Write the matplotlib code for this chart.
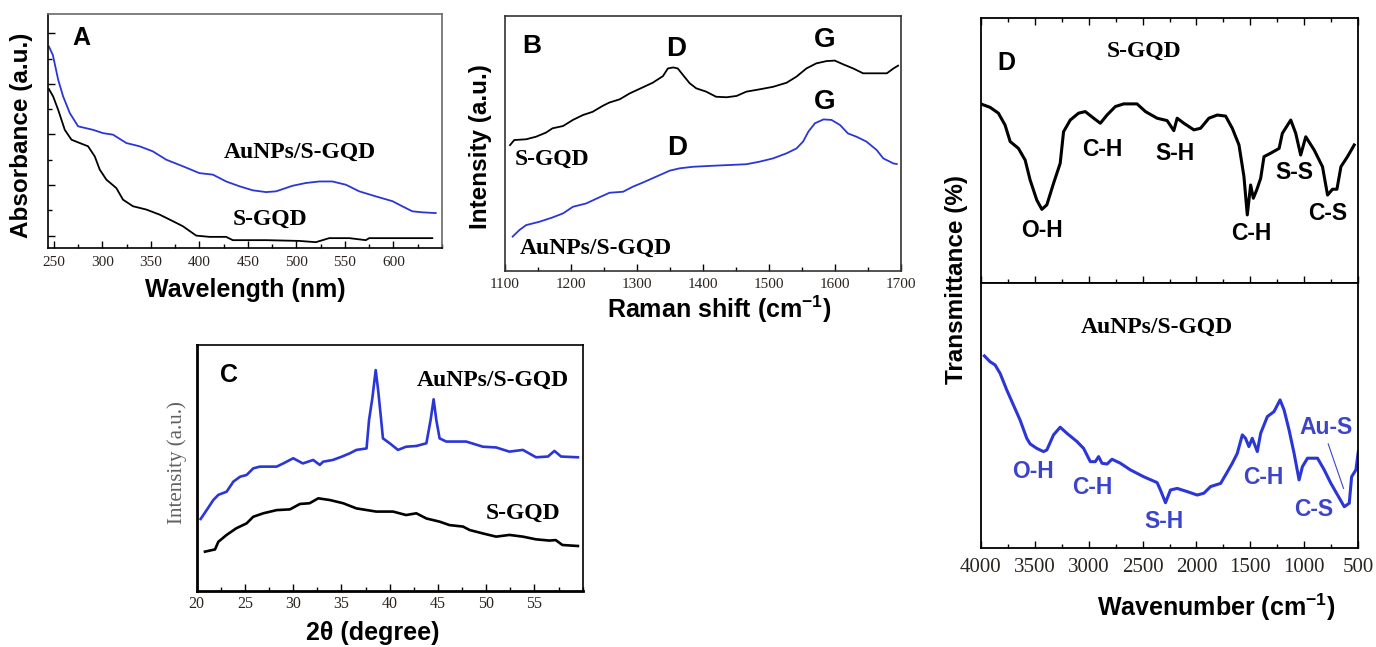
import matplotlib
matplotlib.use("Agg")
import matplotlib.pyplot as plt
from matplotlib.ticker import MultipleLocator, NullFormatter, NullLocator

plt.rcParams['mathtext.fontset'] = 'custom'
plt.rcParams['mathtext.rm'] = 'Liberation Sans:bold'
plt.rcParams['mathtext.it'] = 'Liberation Sans:bold'
plt.rcParams['mathtext.bf'] = 'Liberation Sans:bold'

SERIF = ['Liberation Serif', 'DejaVu Serif']
SANS = ['Liberation Sans', 'DejaVu Sans']
BLUE = '#2b36d6'
BLUE_TXT = '#3c44cc'
TICKC = '#2a2420'

# ---------------- Panel A: UV-Vis ----------------
a_wl_blue = [245, 249, 254.5, 259.6, 266.5, 275, 290.5, 300.7, 311, 324.7, 338.4, 352, 365.9, 383, 400,
             413.9, 427.6, 441.3, 455, 468.7, 479, 496, 509.8, 523.6, 537, 551, 564.7, 581.8, 599, 609,
             619.5, 629.8, 643.5]
a_abs_blue = [7.47, 7.14, 6.16, 5.5, 4.84, 4.32, 4.18, 4.05, 3.99, 3.66, 3.53, 3.33, 3.0, 2.74, 2.47,
              2.41, 2.14, 1.95, 1.79, 1.72, 1.75, 1.97, 2.08, 2.14, 2.14, 2.01, 1.75, 1.55, 1.36, 1.16,
              0.96, 0.92, 0.89]
a_wl_black = [245, 249.3, 254.5, 261.3, 268.2, 276.7, 285.3, 292.2, 297.3, 304.2, 314.4, 321.3, 331.6,
              345.3, 359, 372.7, 383, 396.7, 410.4, 427.6, 434.4, 468.7, 503, 520, 533.8, 554.4, 571.5,
              575, 605.8, 619.5, 640]
a_abs_black = [5.79, 5.5, 4.97, 4.18, 3.79, 3.66, 3.53, 3.13, 2.61, 2.21, 1.88, 1.42, 1.16, 1.03, 0.83,
               0.57, 0.37, 0.0, -0.05, -0.05, -0.18, -0.18, -0.21, -0.26, -0.1, -0.1, -0.18, -0.1, -0.1,
               -0.1, -0.1]
a_xticks = [250, 300, 350, 400, 450, 500, 550, 600]

# ---------------- Panel B: Raman ----------------
b_shift_black = [1107.6, 1114, 1132, 1147, 1162, 1172, 1188, 1203, 1218, 1233, 1248, 1258, 1274, 1289,
                 1309, 1324, 1339.5, 1347, 1355, 1362, 1370, 1380, 1390, 1405, 1420, 1436, 1451, 1466,
                 1486, 1506.5, 1527, 1542, 1557, 1572, 1587.6, 1600, 1613, 1628, 1643, 1659, 1679, 1689,
                 1696]
b_int_black = [0.493, 0.513, 0.516, 0.526, 0.542, 0.559, 0.568, 0.592, 0.611, 0.624, 0.647, 0.660, 0.673,
               0.696, 0.720, 0.738, 0.764, 0.794, 0.798, 0.794, 0.768, 0.736, 0.716, 0.703, 0.683, 0.681,
               0.686, 0.703, 0.712, 0.722, 0.738, 0.762, 0.794, 0.814, 0.823, 0.825, 0.810, 0.794, 0.775,
               0.775, 0.775, 0.794, 0.805]
b_shift_blue = [1111.6, 1122, 1132, 1152, 1172, 1188, 1203, 1223, 1243, 1258.5, 1279, 1294, 1309, 1329,
                1350, 1365, 1385, 1415, 1466, 1486, 1506.5, 1527, 1542, 1552, 1560, 1570, 1583, 1595,
                1608, 1620, 1633, 1648, 1663.5, 1673.6, 1689, 1694]
b_int_blue = [0.134, 0.160, 0.179, 0.192, 0.209, 0.225, 0.251, 0.264, 0.288, 0.306, 0.310, 0.330, 0.346,
              0.369, 0.393, 0.402, 0.408, 0.412, 0.418, 0.428, 0.441, 0.461, 0.480, 0.507, 0.546, 0.579,
              0.594, 0.592, 0.572, 0.539, 0.526, 0.507, 0.474, 0.441, 0.421, 0.419]
b_xticks = [1100, 1200, 1300, 1400, 1500, 1600, 1700]

# ---------------- Panel C: XRD ----------------
c_2theta_blue = [20.41, 21.03, 21.72, 22.24, 23.1, 23.8, 24.5, 25.17, 25.86, 26.55, 28.28, 28.97, 30.0,
                 31.0, 32.07, 32.76, 33.1, 34.1, 35.0, 35.86, 36.55, 37.6, 37.86, 38.2, 38.55, 38.8, 39.1,
                 39.3, 40.0, 40.86, 41.7, 42.76, 43.8, 44.24, 44.55, 44.83, 45.17, 45.86, 47.93, 49.66,
                 51.03, 52.4, 53.8, 55.17, 56.4, 57.07, 57.76, 59.5]
c_int_blue = [0.292, 0.328, 0.369, 0.390, 0.403, 0.444, 0.464, 0.471, 0.498, 0.505, 0.505, 0.518, 0.539,
              0.518, 0.532, 0.512, 0.525, 0.532, 0.545, 0.559, 0.573, 0.579, 0.695, 0.783, 0.898, 0.817,
              0.701, 0.620, 0.600, 0.573, 0.586, 0.589, 0.600, 0.695, 0.779, 0.695, 0.620, 0.607, 0.607,
              0.586, 0.583, 0.566, 0.573, 0.543, 0.546, 0.569, 0.546, 0.543]
c_2theta_black = [20.86, 21.9, 22.24, 23.1, 24.1, 25.17, 25.86, 26.9, 28.28, 29.66, 30.7, 31.7, 32.6,
                  33.8, 35.17, 36.55, 38.6, 40.35, 41.7, 42.76, 43.8, 45.17, 46.2, 47.6, 48.28, 49.66,
                  51.03, 52.4, 53.8, 55.17, 56.55, 57.2, 57.9, 59.5]
c_int_black = [0.159, 0.168, 0.199, 0.227, 0.254, 0.274, 0.301, 0.315, 0.328, 0.331, 0.353, 0.356, 0.376,
               0.369, 0.356, 0.335, 0.322, 0.322, 0.308, 0.315, 0.294, 0.281, 0.267, 0.261, 0.247, 0.233,
               0.220, 0.227, 0.220, 0.209, 0.204, 0.206, 0.186, 0.182]
c_xticks = [20, 25, 30, 35, 40, 45, 50, 55]

# ---------------- Panel D: FTIR ----------------
d_wn_black = [4000, 3913, 3836, 3774, 3727, 3650, 3588, 3542, 3480, 3433, 3387, 3325, 3263, 3232, 3170,
              3093, 3031, 2953, 2891, 2829, 2752, 2674, 2551, 2473, 2365, 2272, 2210, 2179, 2117, 2024,
              1962, 1885, 1807, 1730, 1668, 1606, 1560, 1529, 1498, 1473, 1442, 1405, 1374, 1312, 1234,
              1204, 1126, 1080, 1034, 987, 909, 832, 785, 739, 698, 661, 600, 538]
d_tr_black = [0.677, 0.664, 0.642, 0.597, 0.535, 0.509, 0.465, 0.390, 0.314, 0.279, 0.296, 0.377, 0.453,
              0.572, 0.616, 0.642, 0.648, 0.623, 0.604, 0.635, 0.667, 0.677, 0.677, 0.648, 0.623, 0.614,
              0.576, 0.623, 0.604, 0.579, 0.585, 0.623, 0.635, 0.631, 0.585, 0.522, 0.403, 0.258, 0.371,
              0.321, 0.352, 0.396, 0.478, 0.491, 0.509, 0.566, 0.616, 0.566, 0.484, 0.553, 0.503, 0.440,
              0.333, 0.355, 0.355, 0.440, 0.478, 0.522]
d_wn_blue = [3966, 3913, 3867, 3820, 3758, 3697, 3635, 3573, 3542, 3480, 3418, 3387, 3325, 3263, 3201,
             3108, 3046, 2984, 2938, 2907, 2876, 2829, 2783, 2705, 2613, 2489, 2365, 2334, 2287, 2241,
             2179, 2086, 1993, 1931, 1869, 1776, 1730, 1668, 1622, 1575, 1545, 1514, 1483, 1436, 1405,
             1343, 1281, 1225, 1188, 1142, 1095, 1049, 1018, 971, 878, 816, 754, 692, 630, 584, 562,
             522, 500]
d_tr_blue = [0.726, 0.704, 0.692, 0.660, 0.597, 0.541, 0.484, 0.415, 0.394, 0.377, 0.365, 0.371, 0.428,
             0.457, 0.434, 0.403, 0.377, 0.327, 0.327, 0.346, 0.321, 0.318, 0.336, 0.321, 0.296, 0.270,
             0.248, 0.220, 0.172, 0.220, 0.226, 0.214, 0.201, 0.208, 0.233, 0.245, 0.277, 0.321, 0.358,
             0.428, 0.415, 0.384, 0.415, 0.365, 0.434, 0.497, 0.516, 0.560, 0.522, 0.447, 0.358, 0.258,
             0.308, 0.340, 0.340, 0.296, 0.245, 0.201, 0.157, 0.170, 0.270, 0.296, 0.365]
d_xticks = [4000, 3500, 3000, 2500, 2000, 1500, 1000, 500]

W, H = 1376, 647
fig = plt.figure(figsize=(W / 100, H / 100), dpi=100)


def rect(l, t, r, b):
    return [l / W, 1 - b / H, (r - l) / W, (b - t) / H]


def ftext(x, y, s, **kw):
    fig.text(x / W, 1 - y / H, s, ha='center', va='center', **kw)


def style(ax, fs, pad, maj_len=5, min_len=3):
    ax.tick_params(which='both', direction='in', colors='black', labelcolor=TICKC,
                   labelsize=fs, pad=pad, width=1.0)
    ax.tick_params(which='major', length=maj_len)
    ax.tick_params(which='minor', length=min_len)
    for lbl in ax.get_xticklabels():
        lbl.set_family(SERIF)


# ----- A -----
axA = fig.add_axes(rect(48, 14, 442, 248))
axA.plot(a_wl_blue, a_abs_blue, color=BLUE, lw=1.3)
axA.plot(a_wl_black, a_abs_black, color='black', lw=1.3)
axA.set_xlim(244, 650)
axA.set_ylim(-0.49, 8.76)
axA.set_xticks(a_xticks)
axA.xaxis.set_minor_locator(MultipleLocator(25))
axA.yaxis.set_major_locator(MultipleLocator(2))
axA.yaxis.set_minor_locator(MultipleLocator(1))
axA.yaxis.set_major_formatter(NullFormatter())
style(axA, 11, 5.5)
for s in ['top', 'right']:
    axA.spines[s].set_color('#6a6a6a')
for s in axA.spines.values():
    s.set_linewidth(1.2)
axA.text(278, 7.8, 'A', family=SANS, fontweight='bold', fontsize=18, ha='center', va='center')
axA.text(504, 3.29, 'AuNPs/S-GQD', family=SERIF, fontweight='bold', fontsize=17, ha='center', va='center')
axA.text(473, 0.66, 'S-GQD', family=SERIF, fontweight='bold', fontsize=17, ha='center', va='center')
ftext(22, 135, 'Absorbance (a.u.)', family=SANS, fontweight='bold', fontsize=17.5, rotation=90)
ftext(245, 290, 'Wavelength (nm)', family=SANS, fontweight='bold', fontsize=18)

# ----- B -----
axB = fig.add_axes(rect(505, 16, 900.7, 270.7))
axB.plot(b_shift_black, b_int_black, color='black', lw=1.3)
axB.plot(b_shift_blue, b_int_blue, color=BLUE, lw=1.3)
axB.set_xlim(1100, 1700)
axB.set_ylim(0, 1)
axB.set_xticks(b_xticks)
axB.xaxis.set_minor_locator(MultipleLocator(50))
axB.yaxis.set_major_locator(NullLocator())
style(axB, 11, 5.5)
for s in axB.spines.values():
    s.set_linewidth(1.2)
    s.set_color('#333333')
axB.text(1140, 0.884, 'B', family=SANS, fontweight='bold', fontsize=19, ha='center', va='center')
axB.text(1360, 0.869, 'D', family=SANS, fontweight='bold', fontsize=20, ha='center', va='center')
axB.text(1585, 0.906, 'G', family=SANS, fontweight='bold', fontsize=20, ha='center', va='center')
axB.text(1585, 0.664, 'G', family=SANS, fontweight='bold', fontsize=20, ha='center', va='center')
axB.text(1361, 0.480, 'D', family=SANS, fontweight='bold', fontsize=20, ha='center', va='center')
axB.text(1172, 0.437, 'S-GQD', family=SERIF, fontweight='bold', fontsize=17, ha='center', va='center')
axB.text(1238, 0.088, 'AuNPs/S-GQD', family=SERIF, fontweight='bold', fontsize=17, ha='center', va='center')
ftext(481, 147, 'Intensity (a.u.)', family=SANS, fontweight='bold', fontsize=17.5, rotation=90)
ftext(719, 309, r'Raman shift (cm$^{-1}$)', family=SANS, fontweight='bold', fontsize=18)

# ----- C -----
axC = fig.add_axes(rect(196.7, 345, 582.7, 590.7))
axC.plot(c_2theta_blue, c_int_blue, color=BLUE, lw=1.9)
axC.plot(c_2theta_black, c_int_black, color='black', lw=1.9)
axC.set_xlim(20, 60)
axC.set_ylim(0, 1)
axC.set_xticks(c_xticks)
axC.xaxis.set_minor_locator(MultipleLocator(2.5))
axC.yaxis.set_major_locator(NullLocator())
style(axC, 11.5, 3.5)
axC.spines['left'].set_linewidth(2.0)
axC.spines['bottom'].set_linewidth(2.0)
axC.spines['top'].set_linewidth(1.2)
axC.spines['right'].set_linewidth(1.2)
axC.text(23.3, 0.878, 'C', family=SANS, fontweight='bold', fontsize=18, ha='center', va='center')
axC.text(50.7, 0.858, 'AuNPs/S-GQD', family=SERIF, fontweight='bold', fontsize=17, ha='center', va='center')
axC.text(53.8, 0.315, 'S-GQD', family=SERIF, fontweight='bold', fontsize=17, ha='center', va='center')
ftext(177, 463, 'Intensity (a.u.)', family=SERIF, fontsize=15, color='#606060', rotation=90)
ftext(373, 633, '2θ (degree)', family=SANS, fontweight='bold', fontsize=18)

# ----- D -----
axD1 = fig.add_axes(rect(980.7, 18.3, 1358.3, 283.3))
axD2 = fig.add_axes(rect(980.7, 283.3, 1358.3, 548.3), sharex=axD1)
axD1.plot(d_wn_black, d_tr_black, color='black', lw=2.2)
axD2.plot(d_wn_blue, d_tr_blue, color=BLUE, lw=2.2)
axD1.set_xlim(4000, 500)
axD1.set_ylim(0, 1)
axD2.set_ylim(0, 1)
axD2.set_xticks(d_xticks)
axD2.xaxis.set_minor_locator(MultipleLocator(250))
for ax in (axD1, axD2):
    ax.yaxis.set_major_locator(NullLocator())
    for s in ax.spines.values():
        s.set_linewidth(1.3)
style(axD2, 15, 7)
style(axD1, 15, 7)
axD1.tick_params(axis='x', which='both', top=True, bottom=True, labelbottom=False)
axD2.tick_params(axis='x', which='both', top=False, bottom=True)
axD1.text(3765, 0.830, 'D', family=SANS, fontweight='bold', fontsize=18, ha='center', va='center')
axD1.text(2489, 0.874, 'S-GQD', family=SERIF, fontweight='bold', fontsize=17, ha='center', va='center')
for (x, y, s) in [(2876, 0.506, 'C-H'), (2195, 0.491, 'S-H'), (3433, 0.201, 'O-H'),
                  (1491, 0.189, 'C-H'), (1095, 0.418, 'S-S'), (785, 0.264, 'C-S')]:
    axD1.text(x, y, s, family=SANS, fontweight='bold', fontsize=16.5, ha='center', va='center')
axD2.text(2365, 0.834, 'AuNPs/S-GQD', family=SERIF, fontweight='bold', fontsize=17, ha='center', va='center')
for (x, y, s) in [(3511, 0.289, 'O-H'), (2962, 0.229, 'C-H'), (2303, 0.103, 'S-H'),
                  (1383, 0.267, 'C-H'), (915, 0.145, 'C-S'), (801, 0.457, 'Au-S')]:
    axD2.text(x, y, s, family=SANS, fontweight='bold', fontsize=16.5, ha='center', va='center',
              color=BLUE_TXT)
axD2.plot([779, 637], [0.394, 0.226], color=BLUE_TXT, lw=0.8)
ftext(957, 279, 'Transmittance (%)', family=SANS, fontweight='bold', fontsize=17.5, rotation=90)
ftext(1216, 607, r'Wavenumber (cm$^{-1}$)', family=SANS, fontweight='bold', fontsize=18)

fig.savefig('out.png', dpi=100)
